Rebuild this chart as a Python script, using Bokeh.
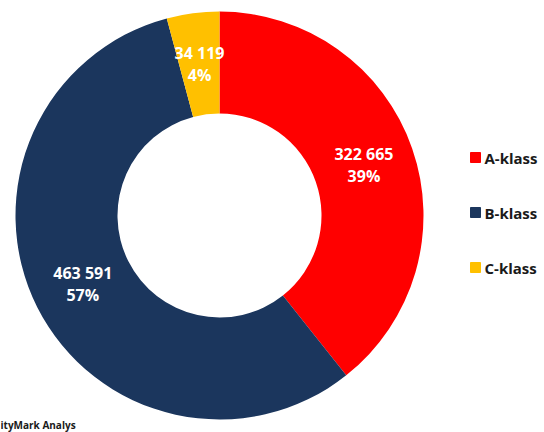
from math import pi
import math
from bokeh.plotting import figure
from bokeh.models import ColumnDataSource, Range1d
from bokeh.core.properties import value
from bokeh.embed import file_html
from bokeh.resources import INLINE

categories = ["A-klass", "B-klass", "C-klass"]
values = [322665, 463591, 34119]
colors = ["#FF0000", "#1B365D", "#FFC000"]
footer = "ityMark Analys"

W, H = 544, 432
cx, cy = 219, H - 215
r_out, r_in = 204, 102
r_lab = (r_out + r_in) / 2

total = sum(values)
starts, ends, lx, ly, labels = [], [], [], [], []
acc = 0.0
for v in values:
    f0 = acc / total
    acc += v
    f1 = acc / total
    a0 = pi / 2 - 2 * pi * f0
    a1 = pi / 2 - 2 * pi * f1
    starts.append(a0)
    ends.append(a1)
    am = (a0 + a1) / 2
    lx.append(cx + r_lab * math.cos(am))
    ly.append(cy + r_lab * math.sin(am))
    num = f"{v:,}".replace(",", " ")
    labels.append(f"{num}\n{round(100 * v / total)}%")

src = ColumnDataSource(dict(start=starts, end=ends, color=colors,
                            lx=lx, ly=ly, label=labels, cat=categories))

p = figure(width=W, height=H, output_backend="svg", toolbar_location=None,
           x_range=Range1d(0, W), y_range=Range1d(0, H),
           min_border=0, outline_line_color=None)
p.axis.visible = False
p.grid.visible = False
p.background_fill_color = "white"

p.annular_wedge(x=cx, y=cy, inner_radius=r_in, outer_radius=r_out,
                start_angle="start", end_angle="end", direction="clock",
                color="color", line_color=None, source=src)

p.text(x="lx", y="ly", text="label", source=src, text_color="white",
       text_font=value("Open Sans"), text_font_style="bold",
       text_font_size="16px", text_align="center", text_baseline="middle",
       text_line_height=1.0)

leg_y = [H - 157, H - 212, H - 267]
leg = ColumnDataSource(dict(x=[475] * 3, tx=[484] * 3, y=leg_y,
                            color=colors, cat=categories))
p.scatter(x="x", y="y", marker="square", size=10, color="color", source=leg)
p.text(x="tx", y="y", text="cat", source=leg, text_color="#1a1a1a",
       text_font=value("Open Sans"), text_font_style="bold",
       text_font_size="15px", text_baseline="middle", text_align="left")

p.text(x=[0], y=[H - 424], text=[footer], text_color="#1a1a1a",
       text_font=value("Open Sans"), text_font_style="bold",
       text_font_size="10px", text_baseline="middle", text_align="left")

open("out.html", "w").write(file_html(p, INLINE))
